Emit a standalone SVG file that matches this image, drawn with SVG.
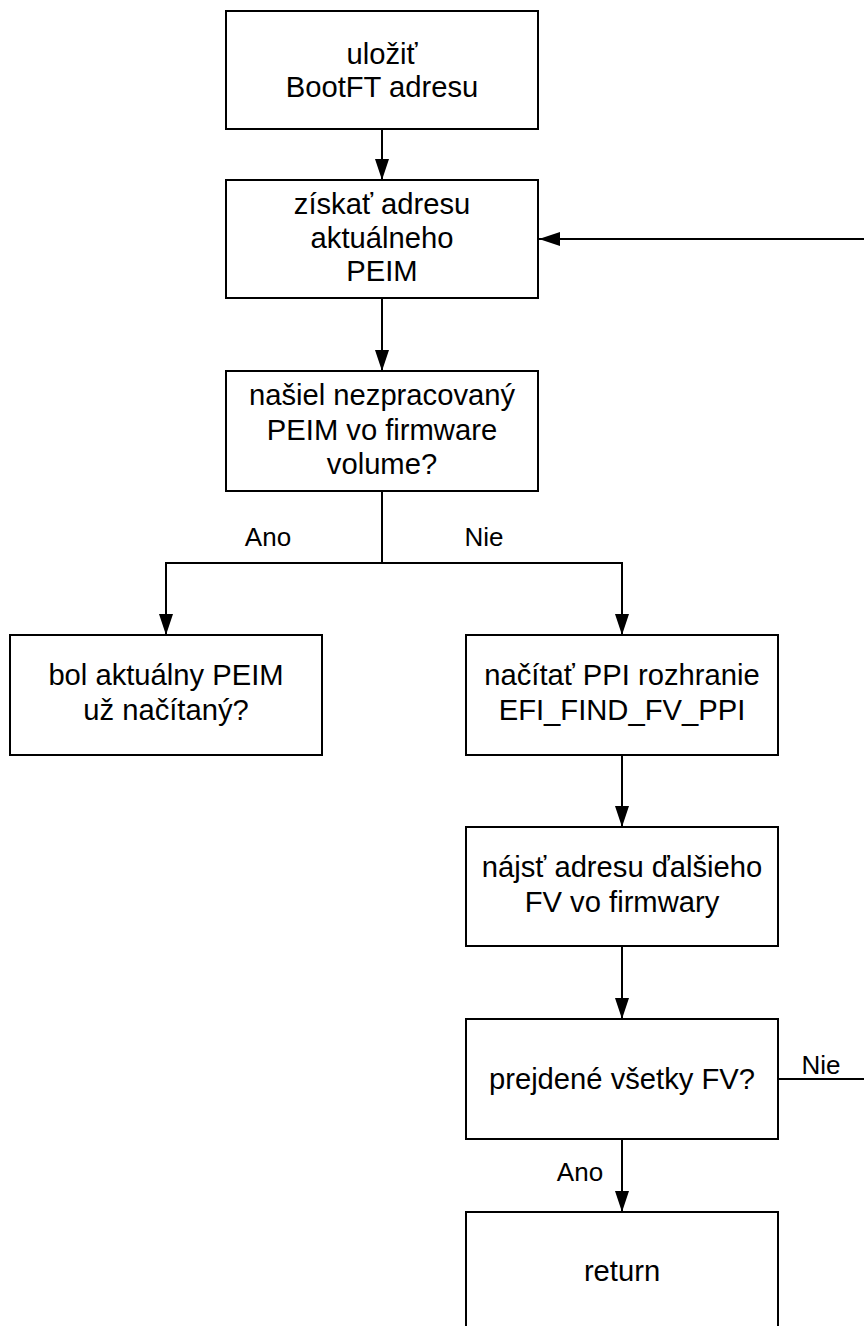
<svg xmlns="http://www.w3.org/2000/svg" width="864" height="1326" viewBox="0 0 864 1326">
  <defs>
    <marker id="arrow" viewBox="0 0 21 14" refX="21" refY="7" markerWidth="21" markerHeight="14" markerUnits="userSpaceOnUse" orient="auto">
      <path d="M0,0 L21,7 L0,14 Z" fill="#000"/>
    </marker>
  </defs>
  <style>
    .box { fill: #fff; stroke: #000; stroke-width: 2; }
    .txt { font-family: "Liberation Sans", Arial, sans-serif; font-size: 29.2px; fill: #000; text-anchor: middle; }
    .lbl { font-family: "Liberation Sans", Arial, sans-serif; font-size: 26px; fill: #000; text-anchor: middle; }
    .wire { fill: none; stroke: #000; stroke-width: 2; }
    .arr { marker-end: url(#arrow); }
  </style>
  <rect width="864" height="1326" fill="#fff"/>

  <g id="connectors">
    <line class="wire arr" x1="382" y1="130" x2="382" y2="180"/>
    <line class="wire arr" x1="382" y1="298" x2="382" y2="371"/>
    <polyline class="wire" points="382,491 382,563"/>
    <polyline class="wire arr" points="382,563 166,563 166,635"/>
    <polyline class="wire arr" points="382,563 622,563 622,635"/>
    <line class="wire arr" x1="622" y1="755" x2="622" y2="827"/>
    <line class="wire arr" x1="622" y1="946" x2="622" y2="1019"/>
    <line class="wire arr" x1="622" y1="1139" x2="622" y2="1212"/>
    <line class="wire" x1="778" y1="1079" x2="864" y2="1079"/>
    <line class="wire arr" x1="864" y1="239" x2="539" y2="239"/>
    <text class="lbl" x="268" y="546">Ano</text>
    <text class="lbl" x="484" y="546">Nie</text>
    <text class="lbl" x="580" y="1181">Ano</text>
    <text class="lbl" x="821" y="1074">Nie</text>
  </g>

  <g id="n1">
    <rect class="box" x="226" y="11" width="312" height="118"/>
    <text class="txt" x="382" y="64">uložiť</text>
    <text class="txt" x="382" y="97">BootFT adresu</text>
  </g>
  <g id="n2">
    <rect class="box" x="226" y="180" width="312" height="118"/>
    <text class="txt" x="382" y="214">získať adresu</text>
    <text class="txt" x="382" y="248">aktuálneho</text>
    <text class="txt" x="382" y="281">PEIM</text>
  </g>
  <g id="n3">
    <rect class="box" x="226" y="371" width="312" height="120"/>
    <text class="txt" x="382" y="405">našiel nezpracovaný</text>
    <text class="txt" x="382" y="440">PEIM vo firmware</text>
    <text class="txt" x="382" y="474">volume?</text>
  </g>
  <g id="n4">
    <rect class="box" x="10" y="635" width="312" height="120"/>
    <text class="txt" x="166" y="685">bol aktuálny PEIM</text>
    <text class="txt" x="166" y="720">už načítaný?</text>
  </g>
  <g id="n5">
    <rect class="box" x="466" y="635" width="312" height="120"/>
    <text class="txt" x="622" y="685">načítať PPI rozhranie</text>
    <text class="txt" x="622" y="720">EFI_FIND_FV_PPI</text>
  </g>
  <g id="n6">
    <rect class="box" x="466" y="827" width="312" height="119"/>
    <text class="txt" x="622" y="877">nájsť adresu ďalšieho</text>
    <text class="txt" x="622" y="912">FV vo firmwary</text>
  </g>
  <g id="n7">
    <rect class="box" x="466" y="1019" width="312" height="120"/>
    <text class="txt" x="622" y="1089">prejdené všetky FV?</text>
  </g>
  <g id="n8">
    <rect class="box" x="466" y="1212" width="312" height="119"/>
    <text class="txt" x="622" y="1281">return</text>
  </g>
</svg>
